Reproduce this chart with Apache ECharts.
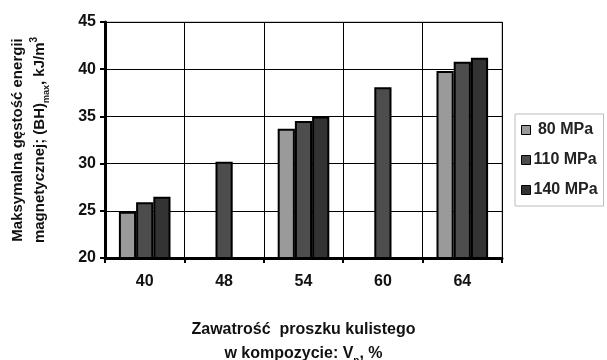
<!DOCTYPE html>
<html><head><meta charset="utf-8">
<script src="https://cdn.jsdelivr.net/npm/echarts@6/dist/echarts.min.js"></script>
<style>html,body{margin:0;padding:0;background:#fff}#c{width:607px;height:360px}</style>
</head><body><div id="c"></div>
<script>
var categories = ['40', '48', '54', '60', '64'];
var seriesNames = [' 80 MPa', '110 MPa', '140 MPa'];
var v80 = [24.9, null, 33.7, null, 39.8];
var v110 = [25.9, 30.2, 34.5, 38.1, 40.8];
var v140 = [26.5, null, 35.0, null, 41.2];
var colors = ['#9a9a9a', '#4d4d4d', '#333333'];
var F = '"Liberation Sans", Arial, sans-serif';
var chart = echarts.init(document.getElementById('c'));
var data = [v80, v110, v140];
chart.setOption({
  animation: false,
  grid: {left: 105, right: 105, top: 22, bottom: 102, show: true, borderColor: '#999', borderWidth: 1, outerBoundsMode: 'none', containLabel: false},
  legend: {
    orient: 'vertical', left: 515, top: 114, padding: [8, 6, 8, 6],
    borderColor: '#bbb', borderWidth: 1, itemWidth: 9, itemHeight: 9, itemGap: 14,
    icon: 'rect',
    textStyle: {fontFamily: F, fontSize: 16, fontWeight: 'bold', color: '#222', padding: [0, 0, 0, -2]},
    data: seriesNames.map(function (n, i) { return {name: n, itemStyle: {borderColor: '#000', borderWidth: 1}}; })
  },
  xAxis: {
    type: 'category', data: categories,
    axisLine: {lineStyle: {color: '#000', width: 3}},
    axisTick: {show: true, length: 5, lineStyle: {color: '#000', width: 2}},
    axisLabel: {fontFamily: F, fontSize: 16, fontWeight: 'bold', color: '#111', margin: 16},
    splitLine: {show: true, lineStyle: {color: '#000', width: 1}},
    name: '{a|Zawatrość  proszku kulistego}\n{a|w kompozycie: V}{s|p}{a|, %}',
    nameLocation: 'middle', nameGap: 60,
    nameTextStyle: {rich: {
      a: {fontFamily: F, fontSize: 16, fontWeight: 'bold', color: '#111', lineHeight: 24},
      s: {fontFamily: F, fontSize: 10, fontWeight: 'bold', color: '#111', verticalAlign: 'bottom', lineHeight: 24, padding: [6, 0, 0, 0]}
    }}
  },
  yAxis: {
    type: 'value', min: 20, max: 45, interval: 5,
    axisLine: {show: true, lineStyle: {color: '#000', width: 3}},
    axisTick: {show: true, length: 5, lineStyle: {color: '#000', width: 2}},
    axisLabel: {fontFamily: F, fontSize: 16, fontWeight: 'bold', color: '#111', margin: 9},
    splitLine: {show: true, lineStyle: {color: '#000', width: 1}},
    name: '{a|Maksymalna gęstość energii}\n{a|magnetycznej; (BH)}{s|max}{a|, kJ/m}{p|3}',
    nameLocation: 'middle', nameRotate: 90, nameGap: 54,
    nameTextStyle: {rich: {
      a: {fontFamily: F, fontSize: 15, fontWeight: 'bold', color: '#111', lineHeight: 22},
      s: {fontFamily: F, fontSize: 9, fontWeight: 'bold', color: '#111', verticalAlign: 'bottom', lineHeight: 22},
      p: {fontFamily: F, fontSize: 10, fontWeight: 'bold', color: '#111', verticalAlign: 'top', lineHeight: 22}
    }}
  },
  series: seriesNames.map(function (n, i) {
    return {
      name: n, type: 'bar', data: data[i], barGap: '0%', barCategoryGap: '35%',
      itemStyle: {color: colors[i], borderColor: '#000', borderWidth: 2}
    };
  })
});
</script></body></html>
